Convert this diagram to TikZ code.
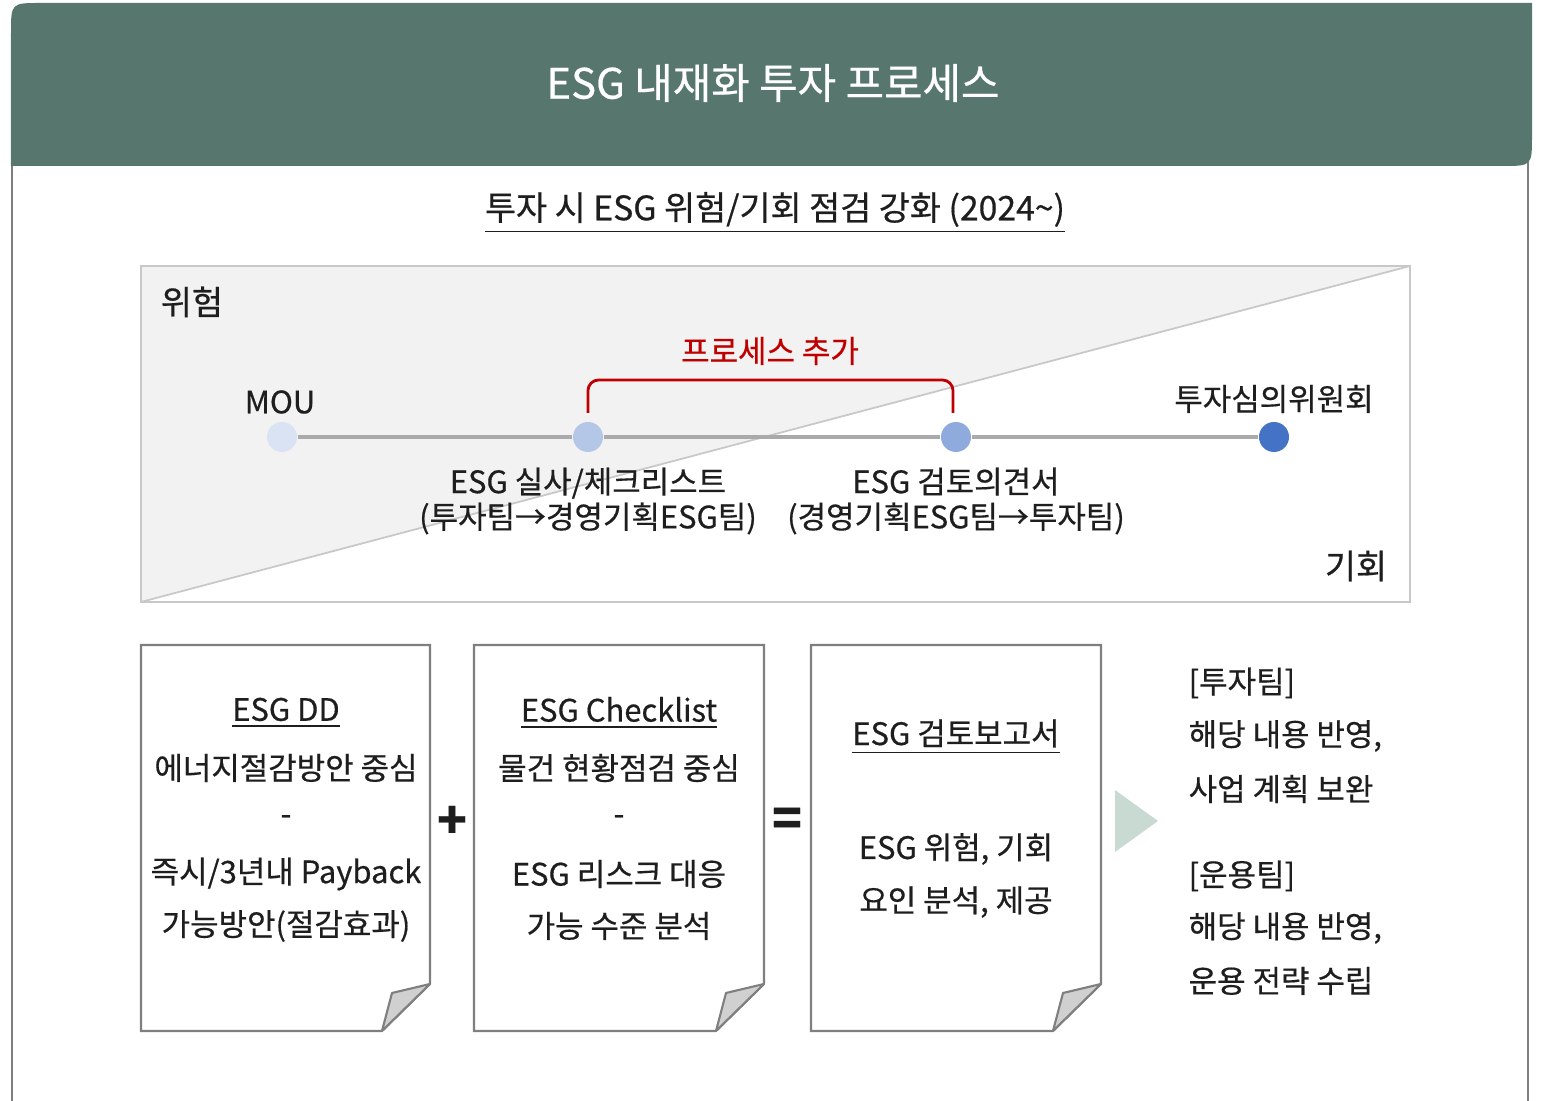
\documentclass[tikz,border=0pt]{standalone}
\usepackage{fontspec}
\setmainfont{Noto Sans CJK KR}[FakeBold=0.5]
\usepackage{tikz}
\usetikzlibrary{positioning}
\usepackage{xcolor}
\definecolor{hdrgreen}{HTML}{57766D}
\definecolor{txtdark}{HTML}{1E1E1E}
\definecolor{panelgray}{HTML}{F2F2F2}
\definecolor{linegray}{HTML}{C8C8C8}
\definecolor{docgray}{HTML}{7F7F7F}
\definecolor{foldgray}{HTML}{D0D0D0}
\definecolor{redmark}{HTML}{C00000}
\definecolor{arrowmint}{HTML}{C9DAD3}
\definecolor{dotA}{HTML}{DAE3F3}
\definecolor{dotB}{HTML}{B4C7E7}
\definecolor{dotC}{HTML}{8FAADC}
\definecolor{dotD}{HTML}{4472C4}

\begin{document}
\begin{tikzpicture}[x=0.01cm,y=-0.01cm,
  lbl/.style={text=txtdark,inner sep=0pt,font=\fontsize{8.8}{10}\selectfont},
  dot/.style={circle,minimum size=0.3cm,inner sep=0pt},
  doc/.style={draw=docgray,fill=white,line width=0.6pt},
  fold/.style={draw=docgray,fill=foldgray,line width=0.6pt,line join=round}]
\useasboundingbox (0,0) rectangle (1544,1101);

% frame and header
\draw[docgray,line width=0.5pt] (12,166) -- (12,1101);
\draw[docgray,line width=0.5pt] (1528,150) -- (1528,1101);
\fill[hdrgreen] (11,166) -- (11,33) .. controls (11,3) .. (41,3) -- (1532,3) -- (1532,136) .. controls (1532,166) .. (1502,166) -- cycle;
\node[lbl,text=white,font=\fontsize{11.9}{13}\selectfont] (title) at (773,83) {ESG 내재화 투자 프로세스};
\node[lbl,font=\fontsize{9.6}{11}\selectfont] (subtitle) at (775,213) {\underline{투자 시 ESG 위험/기회 점검 강화 (2024\textasciitilde)}};

% risk / opportunity panel
\fill[panelgray] (141,266) -- (1410,266) -- (141,602) -- cycle;
\draw[linegray,line width=0.6pt] (141,266) rectangle (1410,602);
\draw[linegray,line width=0.5pt] (141,602) -- (1410,266);
\node[lbl,font=\fontsize{9.6}{11}\selectfont] (risk) at (192,302) {위험};
\node[lbl,font=\fontsize{9.6}{11}\selectfont] (chance) at (1356,566) {기회};

\node[dot,fill=dotA] (mou) at (282,437) {};
\node[dot,fill=dotB] (ddchk) at (588,437) {};
\node[dot,fill=dotC] (review) at (956,437) {};
\node[dot,fill=dotD] (committee) at (1274,437) {};
\draw[linegray!85!black,line width=1pt] (mou) -- (ddchk) -- (review) -- (committee);

\node[lbl] (moulbl) at (280,402) {MOU};
\node[lbl] (comlbl) at (1274,399) {투자심의위원회};
\node[lbl,align=center] (ddlbl) at (588,501) {ESG 실사/체크리스트\\(투자팀→경영기획ESG팀)};
\node[lbl,align=center] (revlbl) at (956,501) {ESG 검토의견서\\(경영기획ESG팀→투자팀)};

% added process
\coordinate (brL) at (588,413);
\coordinate (brR) at (953,413);
\draw[redmark,line width=0.8pt,rounded corners=3] (brL) -- ++(0,-33) -| (brR);
\node[lbl,text=redmark] (addlbl) at (770,351) {프로세스 추가};

% documents
\draw[doc] (141,645) -- (430,645) -- (430,984) -- (382,1031) -- (141,1031) -- cycle;
\draw[fold] (430,984) -- (392,993) -- (382,1031) -- cycle;
\draw[doc] (474,645) -- (764,645) -- (764,984) -- (716,1031) -- (474,1031) -- cycle;
\draw[fold] (764,984) -- (726,993) -- (716,1031) -- cycle;
\draw[doc] (811,645) -- (1101,645) -- (1101,984) -- (1053,1031) -- (811,1031) -- cycle;
\draw[fold] (1101,984) -- (1063,993) -- (1053,1031) -- cycle;

\node[lbl] (dd1) at (286,713) {\underline{ESG DD}};
\node[lbl] (dd2) at (286,768) {에너지절감방안 중심};
\node[lbl] (dd3) at (286,820) {-};
\node[lbl] (dd4) at (286,874) {즉시/3년내 Payback};
\node[lbl] (dd5) at (286,926) {가능방안(절감효과)};

\node[lbl] (ck1) at (619,713) {\underline{ESG Checklist}};
\node[lbl] (ck2) at (619,768) {물건 현황점검 중심};
\node[lbl] (ck3) at (619,820) {-};
\node[lbl] (ck4) at (619,874) {ESG 리스크 대응};
\node[lbl] (ck5) at (619,926) {가능 수준 분석};

\node[lbl] (rp1) at (956,737) {\underline{ESG 검토보고서}};
\node[lbl] (rp2) at (956,849) {ESG 위험, 기회};
\node[lbl] (rp3) at (956,902) {요인 분석, 제공};

\node[lbl,font=\fontsize{14}{15}\bfseries] (plus) at (452,822) {+};
\node[lbl,font=\fontsize{14}{15}\bfseries] (equal) at (787,822) {=};

% result
\fill[arrowmint] (1115,790) -- (1158,821) -- (1115,852) -- cycle;
\node[lbl,anchor=west] (inv1) at (1188,683) {[투자팀]};
\node[lbl,anchor=west] (inv2) at (1188,736) {해당 내용 반영,};
\node[lbl,anchor=west] (inv3) at (1188,789) {사업 계획 보완};
\node[lbl,anchor=west] (ops1) at (1188,876) {[운용팀]};
\node[lbl,anchor=west] (ops2) at (1188,928) {해당 내용 반영,};
\node[lbl,anchor=west] (ops3) at (1188,981) {운용 전략 수립};
\end{tikzpicture}
\end{document}
